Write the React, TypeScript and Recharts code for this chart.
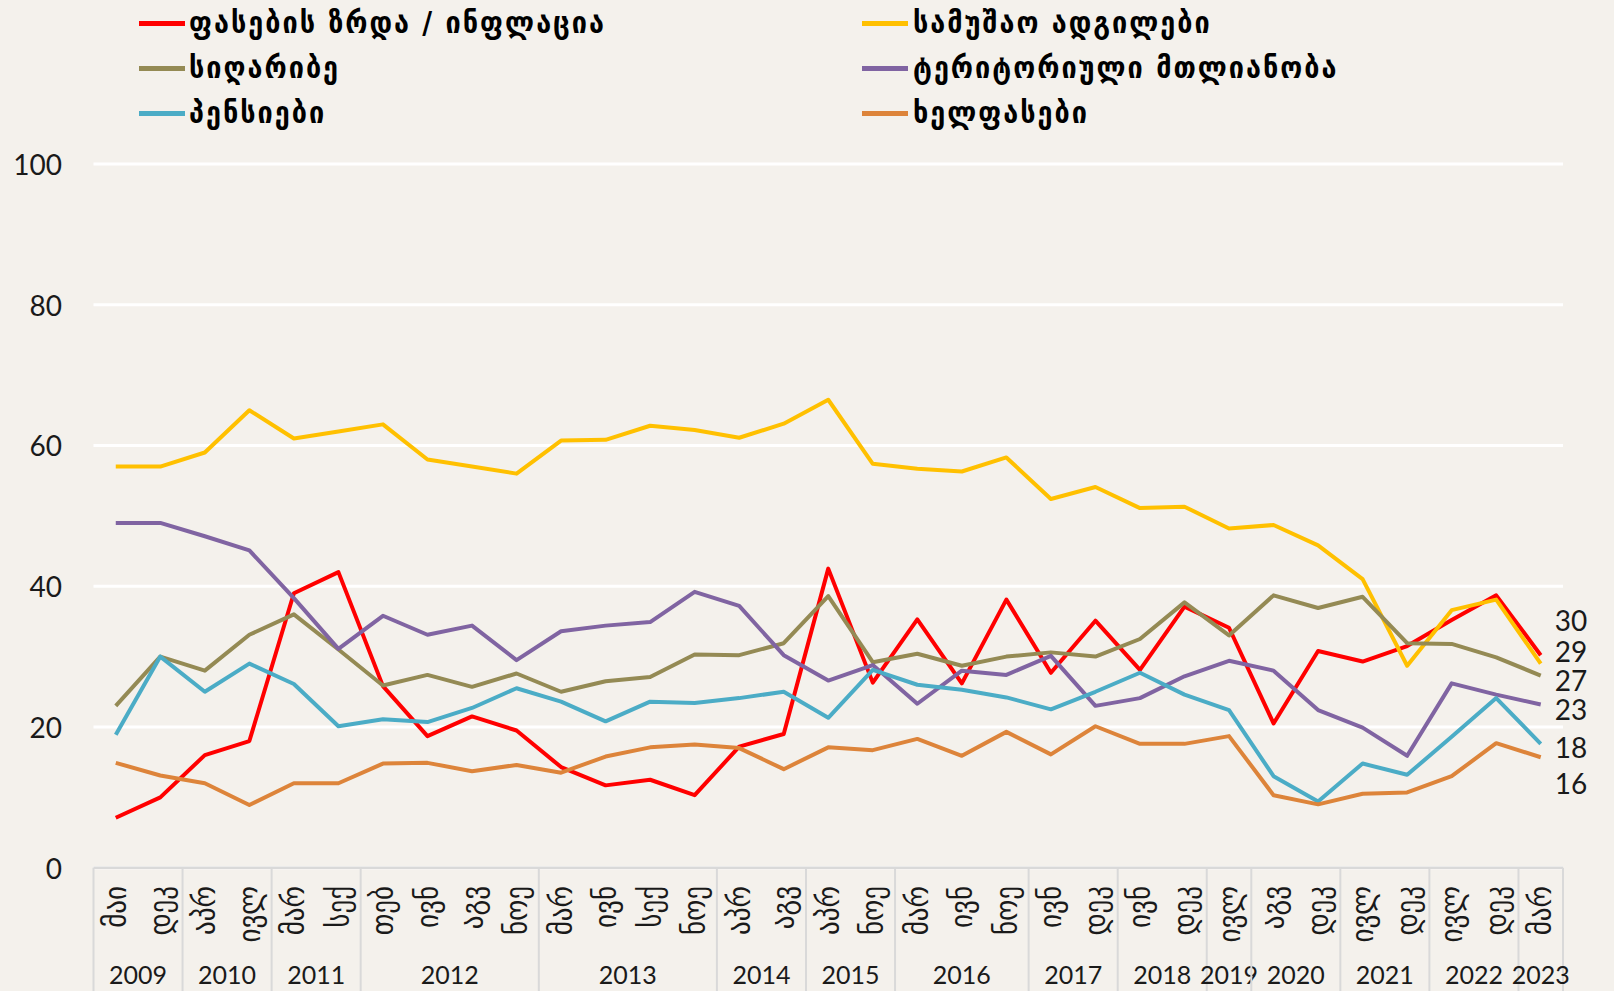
import React from 'react';
import { LineChart, Line, XAxis, YAxis, CartesianGrid, Legend } from 'recharts';

const months = ['მაი','დეკ','აპრ','ივლ','მარ','სექ','თებ','ივნ','აგვ','ნოე','მარ','ივნ','სექ','ნოე','აპრ','აგვ','აპრ','ნოე','მარ','ივნ','ნოე','ივნ','დეკ','ივნ','დეკ','ივლ','აგვ','დეკ','ივლ','დეკ','ივლ','დეკ','მარ'];
const years = ['2009','2009','2010','2010','2011','2011','2012','2012','2012','2012','2013','2013','2013','2013','2014','2014','2015','2015','2016','2016','2016','2017','2017','2018','2018','2019','2020','2020','2021','2021','2022','2022','2023'];

const inflation = [7.1,10.0,16.0,18.0,39.0,42.0,25.8,18.7,21.5,19.5,14.3,11.7,12.5,10.3,17.2,19.0,42.5,26.3,35.3,26.2,38.1,27.7,35.1,28.1,37.1,34.1,20.5,30.8,29.3,31.5,35.2,38.7,30.2];
const jobs = [57,57,59,65,61,62,63,58,57,56,60.7,60.8,62.8,62.2,61.1,63.1,66.5,57.4,56.7,56.3,58.3,52.4,54.1,51.1,51.3,48.2,48.7,45.8,41.0,28.7,36.6,38.1,29.0];
const poverty = [23,30,28,33.1,36,31,25.9,27.4,25.7,27.6,25.0,26.5,27.1,30.3,30.2,31.9,38.6,29.2,30.4,28.7,30.0,30.6,30.0,32.5,37.7,33.0,38.7,36.9,38.5,31.9,31.8,29.9,27.3];
const territory = [49,49,47.1,45.1,38.3,31.1,35.8,33.1,34.4,29.5,33.6,34.4,34.9,39.2,37.2,30.2,26.6,28.8,23.3,28.0,27.4,30.1,23.0,24.1,27.2,29.4,28.0,22.4,19.9,15.9,26.2,24.6,23.2];
const pensions = [18.9,30.0,25.0,29.0,26.1,20.1,21.1,20.7,22.7,25.5,23.6,20.8,23.6,23.4,24.1,25.0,21.3,28.1,26.0,25.3,24.2,22.5,25.0,27.7,24.6,22.4,13.0,9.4,14.8,13.2,18.6,24.1,17.6];
const wages = [14.9,13.1,12.0,8.9,12.0,12.0,14.8,14.9,13.7,14.6,13.5,15.8,17.1,17.5,17.0,14.0,17.1,16.7,18.3,15.9,19.3,16.1,20.1,17.6,17.6,18.7,10.3,9.0,10.5,10.7,13.0,17.7,15.7];

const yTicks = [0, 20, 40, 60, 80, 100];

const series = [
  { key: 'inflation', name: 'ფასების ზრდა / ინფლაცია', color: '#FF0000', values: inflation, labelDy: -35 },
  { key: 'jobs', name: 'სამუშაო ადგილები', color: '#FFC000', values: jobs, labelDy: -13 },
  { key: 'poverty', name: 'სიღარიბე', color: '#948A54', values: poverty, labelDy: 4 },
  { key: 'territory', name: 'ტერიტორიული მთლიანობა', color: '#8064A2', values: territory, labelDy: 5 },
  { key: 'pensions', name: 'პენსიები', color: '#4BACC6', values: pensions, labelDy: 3 },
  { key: 'wages', name: 'ხელფასები', color: '#DD843A', values: wages, labelDy: 26 },
];

const data = months.map((m, i) => {
  const row: any = { idx: i };
  series.forEach((s) => { row[s.key] = s.values[i]; });
  return row;
});

const W = 1614;
const H = 991;
const LEFT = 93.5;
const RIGHT = 51;
const TOP = 164;
const MONTH_H = 75;
const YEAR_H = 48.3;
const PLOT_BOTTOM = H - MONTH_H - YEAR_H;
const BW = (W - LEFT - RIGHT) / months.length;
const BG = '#F4F1EC';
const AXIS = '#D9D9D9';
const NUM_FONT = 'Lato, "Open Sans", sans-serif';
const GEO_FONT = '"DejaVu Sans Condensed", "DejaVu Sans", sans-serif';

const YTick = (props: any) => {
  const { y, payload } = props;
  return (
    <text x={62} y={y} textAnchor="end" dominantBaseline="central" fontFamily={NUM_FONT} fontSize={28} fill="#1a1a1a">
      {payload.value}
    </text>
  );
};

const MonthTick = (props: any) => {
  const { x, payload } = props;
  return (
    <text
      transform={`translate(${x},${886}) rotate(-90)`}
      textAnchor="end"
      dominantBaseline="central"
      fontFamily={GEO_FONT}
      fontStretch="condensed"
      fontSize={30}
      fill="#1a1a1a"
    >
      {months[payload.value]}
    </text>
  );
};

const YearTick = (props: any) => {
  const { x, payload } = props;
  const i = payload.value as number;
  const yr = years[i];
  const isFirst = i === 0 || years[i - 1] !== yr;
  const isLast = i === years.length - 1;
  const count = years.filter((v) => v === yr).length;
  const left = x - BW / 2;
  return (
    <g>
      {isFirst && (
        <line x1={left} x2={left} y1={PLOT_BOTTOM} y2={H} stroke={AXIS} strokeWidth={2} />
      )}
      {isLast && (
        <line x1={x + BW / 2} x2={x + BW / 2} y1={PLOT_BOTTOM} y2={H} stroke={AXIS} strokeWidth={2} />
      )}
      {isFirst && (
        <text x={left + (count * BW) / 2} y={974} textAnchor="middle" dominantBaseline="central" fontFamily={NUM_FONT} fontSize={25} fill="#1a1a1a">
          {yr}
        </text>
      )}
    </g>
  );
};

const makeEndLabel = (dy: number) => (props: any) => {
  const { x, y, value, index } = props;
  if (index !== months.length - 1) return <g />;
  return (
    <text x={x + 14} y={y + dy} dominantBaseline="central" fontFamily={NUM_FONT} fontSize={28} fill="#1a1a1a">
      {Math.round(value)}
    </text>
  );
};

const LegendContent = () => {
  return (
    <div style={{ position: 'relative', width: W, height: 140 }}>
      {series.map((s, i) => {
        const col = i % 2;
        const row = Math.floor(i / 2);
        const cy = 23 + row * 45;
        const mx = col === 0 ? 139 : 862;
        const tx = col === 0 ? 189 : 913;
        return (
          <React.Fragment key={s.key}>
            <div style={{ position: 'absolute', left: mx, top: cy - 2.5, width: 46, height: 5, background: s.color }} />
            <div
              style={{
                position: 'absolute',
                left: tx,
                top: cy - 20,
                height: 40,
                lineHeight: '40px',
                fontFamily: GEO_FONT,
                fontStretch: 'condensed',
                fontWeight: 'bold',
                fontSize: 30,
                letterSpacing: 2,
                color: '#000',
                whiteSpace: 'nowrap',
              }}
            >
              {s.name}
            </div>
          </React.Fragment>
        );
      })}
    </div>
  );
};

export default function App() {
  return (
    <div style={{ position: 'fixed', left: 0, top: 0, width: W, height: H, background: BG, overflow: 'hidden' }}>
      <LineChart width={W} height={H} data={data} margin={{ top: TOP, right: RIGHT, left: 0, bottom: 0 }}>
        <CartesianGrid vertical={false} stroke="#FFFFFF" strokeWidth={3} />
        <XAxis
          dataKey="idx"
          type="category"
          interval={0}
          height={MONTH_H}
          padding={{ left: BW / 2, right: BW / 2 }}
          axisLine={{ stroke: AXIS, strokeWidth: 2.5 }}
          tickLine={false}
          tick={<MonthTick />}
        />
        <XAxis
          xAxisId="year"
          dataKey="idx"
          type="category"
          interval={0}
          height={YEAR_H}
          padding={{ left: BW / 2, right: BW / 2 }}
          axisLine={false}
          tickLine={false}
          tick={<YearTick />}
        />
        <YAxis
          width={LEFT}
          domain={[0, 100]}
          ticks={yTicks}
          axisLine={false}
          tickLine={false}
          tick={<YTick />}
        />
        <Legend
          layout="horizontal"
          verticalAlign="middle"
          align="center"
          wrapperStyle={{ top: 0, left: 0, width: W, height: 140 }}
          content={<LegendContent />}
        />
        {series.map((s) => (
          <Line
            key={s.key}
            dataKey={s.key}
            name={s.name}
            stroke={s.color}
            strokeWidth={4}
            dot={false}
            type="linear"
            strokeLinejoin="round"
            isAnimationActive={false}
            label={makeEndLabel(s.labelDy)}
          />
        ))}
      </LineChart>
    </div>
  );
}
